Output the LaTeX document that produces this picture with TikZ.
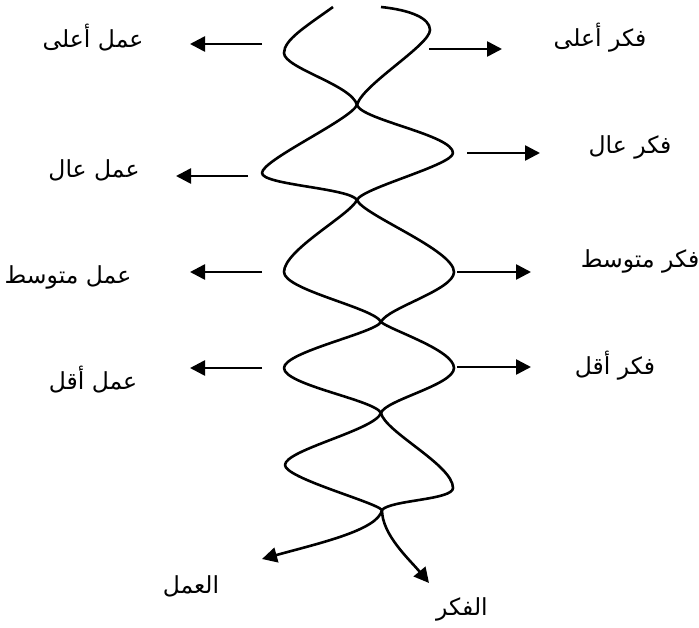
\documentclass[tikz,border=0pt]{standalone}
\usepackage{fontspec}
\usetikzlibrary{arrows.meta}
\newfontfamily\arabicfont[Script=Arabic]{DejaVu Sans}
\TeXXeTstate=1
\begin{document}
\begin{tikzpicture}[x=1pt,y=-1pt,
  sidearrow/.style={line width=2.6pt, -{Triangle[length=15pt,width=15pt]}},
  endarrow/.style={line width=2.6pt, line join=round, -{Triangle[length=15pt,width=15pt]}},
  lbl/.style={font=\arabicfont\fontsize{23.5}{28}\selectfont, inner sep=0pt}]
\useasboundingbox (0,0) rectangle (699,627);

% crossing points
\coordinate (c1) at (357,105);
\coordinate (c2) at (357,200);
\coordinate (c3) at (381,322);
\coordinate (c4) at (381,413);
\coordinate (c5) at (382,510);
\coordinate (ta) at (333,7);
\coordinate (tb) at (381,7);
\coordinate (fikrend) at (429,583);
\coordinate (amalend) at (262,559);

% strand A (ends at the right lower arrow)
\draw[endarrow] (ta) .. controls (305,27) and (284,40) .. (284,53)
  .. controls (284,68) and (352,85) .. (c1)
  .. controls (362,120) and (453,135) .. (453,153)
  .. controls (453,165) and (362,188) .. (c2)
  .. controls (350,215) and (284,250) .. (284,272)
  .. controls (284,290) and (375,308) .. (c3)
  .. controls (390,330) and (454,350) .. (454,368)
  .. controls (454,385) and (385,400) .. (c4)
  .. controls (375,430) and (285,450) .. (285,465)
  .. controls (285,478) and (375,502) .. (c5)
  .. controls (382,535) and (410,560) .. (fikrend);

% strand B (ends at the left lower arrow)
\draw[endarrow] (tb) .. controls (410,10) and (430,18) .. (430,30)
  .. controls (430,45) and (362,85) .. (c1)
  .. controls (350,120) and (262,160) .. (262,173)
  .. controls (262,185) and (350,188) .. (c2)
  .. controls (363,215) and (454,250) .. (454,272)
  .. controls (454,290) and (387,308) .. (c3)
  .. controls (375,333) and (284,352) .. (284,368)
  .. controls (284,385) and (375,400) .. (c4)
  .. controls (385,432) and (453,465) .. (453,488)
  .. controls (453,500) and (390,500) .. (c5)
  .. controls (378,530) and (320,543) .. (amalend);

% side arrows - left (work)
\coordinate (l1s) at (262,44); \coordinate (l1e) at (190,44);
\coordinate (l2s) at (248,176); \coordinate (l2e) at (176,176);
\coordinate (l3s) at (262,272); \coordinate (l3e) at (190,272);
\coordinate (l4s) at (262,368); \coordinate (l4e) at (190,368);
\draw[sidearrow] (l1s) -- (l1e);
\draw[sidearrow] (l2s) -- (l2e);
\draw[sidearrow] (l3s) -- (l3e);
\draw[sidearrow] (l4s) -- (l4e);

% side arrows - right (thought)
\coordinate (r1s) at (429,49); \coordinate (r1e) at (502,49);
\coordinate (r2s) at (467,153); \coordinate (r2e) at (540,153);
\coordinate (r3s) at (457,272); \coordinate (r3e) at (531,272);
\coordinate (r4s) at (457,367); \coordinate (r4e) at (531,367);
\draw[sidearrow] (r1s) -- (r1e);
\draw[sidearrow] (r2s) -- (r2e);
\draw[sidearrow] (r3s) -- (r3e);
\draw[sidearrow] (r4s) -- (r4e);

% labels
\node[lbl] (w1) at (93,38) {\beginR عمل أعلى\endR};
\node[lbl] (w2) at (94,170) {\beginR عمل عال\endR};
\node[lbl] (w3) at (68,277) {\beginR عمل متوسط\endR};
\node[lbl] (w4) at (93,380) {\beginR عمل أقل\endR};
\node[lbl] (t1) at (600,38) {\beginR فكر أعلى\endR};
\node[lbl] (t2) at (630,147) {\beginR فكر عال\endR};
\node[lbl] (t3) at (640,261) {\beginR فكر متوسط\endR};
\node[lbl] (t4) at (615,366) {\beginR فكر أقل\endR};
\node[lbl] (amal) at (191,586) {\beginR العمل\endR};
\node[lbl] (fikr) at (462,609) {\beginR الفكر\endR};
\end{tikzpicture}
\end{document}
